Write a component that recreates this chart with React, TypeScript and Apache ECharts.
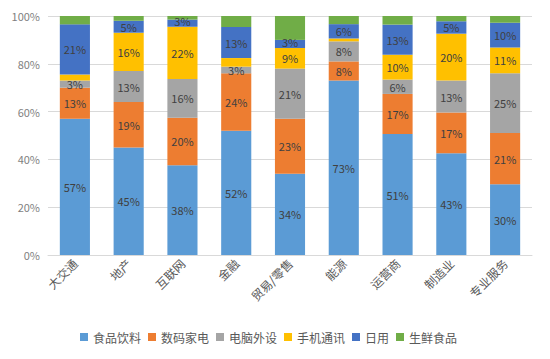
import React, { useEffect, useRef } from "react";
import * as echarts from "echarts";

const categories = ["大交通", "地产", "互联网", "金融", "贸易/零售", "能源", "运营商", "制造业", "专业服务"];
const seriesNames = ["食品饮料", "数码家电", "电脑外设", "手机通讯", "日用", "生鲜食品"];
const food = [57, 45, 37.6, 52, 34, 73, 50.6, 42.6, 29.6];
const digital = [13, 19, 19.8, 24, 23, 8, 16.8, 17, 21.4];
const computer = [3, 13, 16.2, 2.8, 21, 8.4, 6, 13.4, 25];
const phone = [2.5, 16, 21.9, 3.6, 8.6, 1.2, 10.4, 19.6, 10.8];
const daily = [21, 5, 3, 13, 3.4, 6, 12.6, 5.2, 10.4];
const fresh = [3.5, 2, 1.5, 4.6, 10, 3.4, 3.6, 2.2, 2.8];
const yTicks = [0, 20, 40, 60, 80, 100];

const colors = ["#5B9BD5", "#ED7D31", "#A5A5A5", "#FFC000", "#4472C4", "#70AD47"];
const FONT = "'Noto Sans CJK SC', 'Noto Sans', sans-serif";

export default function App() {
  const ref = useRef<HTMLDivElement>(null);
  useEffect(() => {
    const chart = echarts.init(ref.current!, null, { renderer: "svg" });
    const all = [food, digital, computer, phone, daily, fresh];
    const minLabel = [0, 0, 0, 5, 0, 1000];
    chart.setOption({
      animation: false,
      color: colors,
      grid: { left: 48, right: 18, top: 16, height: 239 },
      legend: {
        data: seriesNames,
        left: 75,
        top: 326,
        itemWidth: 8,
        itemHeight: 8,
        itemGap: 7,
        icon: "rect",
        textStyle: { fontSize: 12, color: "#595959", fontFamily: FONT },
      },
      xAxis: {
        type: "category",
        data: categories,
        axisLine: { lineStyle: { color: "#D9D9D9" } },
        axisTick: { show: false },
        axisLabel: {
          rotate: 45,
          interval: 0,
          fontSize: 12,
          color: "#595959",
          fontFamily: FONT,
          margin: 6,
        },
      },
      yAxis: {
        type: "value",
        min: 0,
        max: 100,
        interval: 20,
        axisLine: { show: false },
        axisTick: { show: false },
        splitLine: { lineStyle: { color: "#D9D9D9" } },
        axisLabel: {
          formatter: (v: number) => (yTicks.includes(v) ? v + "%" : ""),
          fontSize: 11,
          color: "#7F7F7F",
          fontFamily: FONT,
          margin: 8,
        },
      },
      series: all.map((d, i) => ({
        name: seriesNames[i],
        type: "bar",
        stack: "total",
        data: d.map((v, j) =>
          i === 4 && v < 4 && phone[j] >= minLabel[3]
            ? { value: v, label: { offset: [0, -2] } }
            : v
        ),
        barWidth: "56%",
        itemStyle: { color: colors[i] },
        label: {
          show: i !== 5,
          position: "inside",
          fontSize: 11,
          lineHeight: 11,
          color: "#404040",
          fontFamily: FONT,
          formatter: (p: any) => (p.value >= minLabel[i] ? Math.round(p.value) + "%" : ""),
        },
      })),
    });
    return () => chart.dispose();
  }, []);
  return <div ref={ref} style={{ width: 550, height: 359, position: "absolute", left: 0, top: 0, background: "#fff" }} />;
}
